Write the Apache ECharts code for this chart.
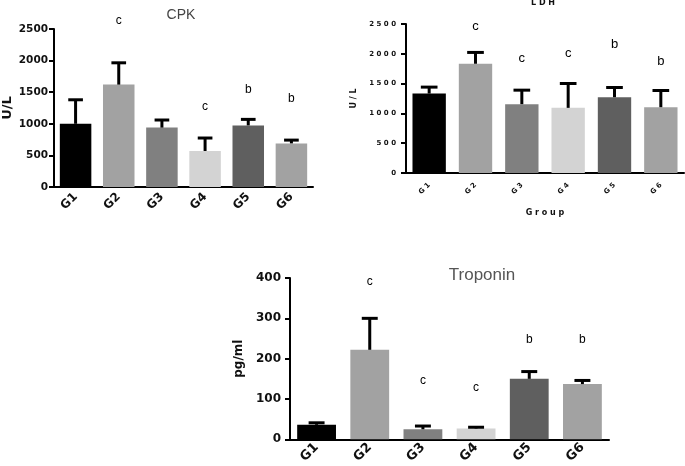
<!DOCTYPE html>
<html><head><meta charset="utf-8">
<script src="https://cdn.jsdelivr.net/npm/echarts@6/dist/echarts.min.js"></script>
<style>html,body{margin:0;padding:0;background:#fff}#c{width:685px;height:466px}</style>
</head><body><div id="c"></div>
<script>
const groups = ['G1','G2','G3','G4','G5','G6'];
const barColors = ['#000000','#a2a2a2','#808080','#d3d3d3','#5f5f5f','#a2a2a2'];

const cpkMean = [1000,1620,940,570,975,690];
const cpkSD   = [380,345,120,205,95,52];
const cpkSig  = ['','c','','c','b','b'];
const cpkSigY = [null,2627,null,1266,1535,1392];
const cpkTicks = [0,500,1000,1500,2000,2500];

const ldhMean = [1333,1833,1155,1093,1272,1104];
const ldhSD   = [108,190,235,409,163,280];
const ldhSig  = ['','c','c','c','b','b'];
const ldhSigY = [null,2460,1928,2000,2163,1872];
const ldhTicks = [0,500,1000,1500,2000,2500];

const tropMean = [36,222,25,27,150,137];
const tropSD   = [5,78,8,3,18,9];
const tropSig  = ['','c','c','c','b','b'];
const tropSigY = [null,390,146,128,247,247];
const tropTicks = [0,100,200,300,400];

const chart = echarts.init(document.getElementById('c'));
const F = 'DejaVu Sans';

function errRender(capFrac, lw){
  return function(params, api){
    const i = api.value(0);
    const base = api.coord([i, api.value(1)]);
    const top = api.coord([i, api.value(1) + api.value(2)]);
    const bw = api.size([1,0])[0];
    const half = bw * capFrac / 2;
    return {type:'group', children:[
      {type:'line', shape:{x1:top[0], y1:base[1], x2:top[0], y2:top[1]}, style:{stroke:'#000', lineWidth:lw}},
      {type:'line', shape:{x1:top[0]-half, y1:top[1], x2:top[0]+half, y2:top[1]}, style:{stroke:'#000', lineWidth:lw}}
    ]};
  };
}
function sigRender(labels, size, weight){
  return function(params, api){
    const i = api.value(0);
    const p = api.coord([i, api.value(1)]);
    return {type:'text', x:p[0], y:p[1], style:{text:labels[i], fontSize:size, fontWeight:weight, fontFamily:'Liberation Sans', fill:'#000', align:'center', verticalAlign:'middle'}};
  };
}
function sigData(ys){ return ys.map((y,i)=> y==null ? null : [i,y]).filter(d=>d); }

function xAx(gi, fs, margin, fmt, extra){
  return Object.assign({
    type:'category', gridIndex:gi, data:groups,
    axisLine:{lineStyle:{color:'#000', width:2}},
    axisTick:{alignWithLabel:true, length:5, lineStyle:{color:'#000', width:2}},
    axisLabel:{rotate:45, fontSize:fs, fontWeight:'bold', color:'#111', fontFamily:F, margin:margin, formatter:fmt}
  }, extra||{});
}
function yAx(gi, max, interval, fs, margin, name, nameSize, nameGap, fmt){
  return {
    type:'value', gridIndex:gi, min:0, max:max, interval:interval,
    splitLine:{show:false},
    axisLine:{show:true, lineStyle:{color:'#000', width:2}},
    axisTick:{show:true, length:5, lineStyle:{color:'#000', width:2}},
    axisLabel:{fontSize:fs, fontWeight:'bold', color:'#111', fontFamily:F, margin:margin, formatter:fmt},
    name:name, nameLocation:'middle', nameGap:nameGap,
    nameTextStyle:{fontSize:nameSize, fontWeight:'bold', color:'#111', fontFamily:F}
  };
}
const plain = v => String(v);
const spaced = v => String(v).split('').join(' ');

function barSeries(gi, vals, gap){
  return {type:'bar', xAxisIndex:gi, yAxisIndex:gi, barCategoryGap:gap,
    data: vals.map((v,i)=>({value:v, itemStyle:{color:barColors[i]}})), z:2};
}
function errSeries(gi, mean, sd, capFrac, lw){
  return {type:'custom', xAxisIndex:gi, yAxisIndex:gi, renderItem:errRender(capFrac, lw),
    data: mean.map((m,i)=>[i,m,sd[i]]), z:3, clip:false};
}
function sigSeries(gi, labels, ys, size, weight){
  return {type:'custom', xAxisIndex:gi, yAxisIndex:gi, renderItem:sigRender(labels, size, weight),
    data: sigData(ys), z:4, clip:false};
}

chart.setOption({
  animation:false,
  grid:[
    {left:52, top:29, width:261, height:158},
    {left:406, top:24, width:278, height:149},
    {left:290, top:278, width:319, height:164}
  ],
  xAxis:[
    xAx(0, 12, 8),
    xAx(1, 7, 11, spaced, {name:spaced('Group'), nameLocation:'middle', nameGap:36,
      nameTextStyle:{fontSize:8, fontWeight:'bold', color:'#111', fontFamily:F}}),
    xAx(2, 13, 6)
  ],
  yAxis:[
    yAx(0, 2500, 500, 10.5, 6, 'U/L', 13, 40, plain),
    yAx(1, 2500, 500, 7, 10, 'U / L', 8, 48, spaced),
    yAx(2, 400, 100, 12, 9, 'pg/ml', 12, 45, plain)
  ],
  graphic:[
    {type:'text', x:181, y:15, style:{text:'CPK', fontSize:14, fontFamily:'Liberation Sans', fill:'#444', align:'center', verticalAlign:'middle'}},
    {type:'text', x:543, y:3, style:{text:'L D H', fontSize:8, fontWeight:'bold', fontFamily:F, fill:'#111', align:'center', verticalAlign:'middle'}},
    {type:'text', x:482, y:275, style:{text:'Troponin', fontSize:17, fontFamily:'Liberation Sans', fill:'#555', align:'center', verticalAlign:'middle'}}
  ],
  series:[
    barSeries(0, cpkMean, '27%'), errSeries(0, cpkMean, cpkSD, 0.34, 3), sigSeries(0, cpkSig, cpkSigY, 12, 'normal'),
    barSeries(1, ldhMean, '28%'), errSeries(1, ldhMean, ldhSD, 0.36, 3), sigSeries(1, ldhSig, ldhSigY, 13, 'normal'),
    barSeries(2, tropMean, '27%'), errSeries(2, tropMean, tropSD, 0.3, 3), sigSeries(2, tropSig, tropSigY, 12, 'normal')
  ]
});
</script></body></html>
